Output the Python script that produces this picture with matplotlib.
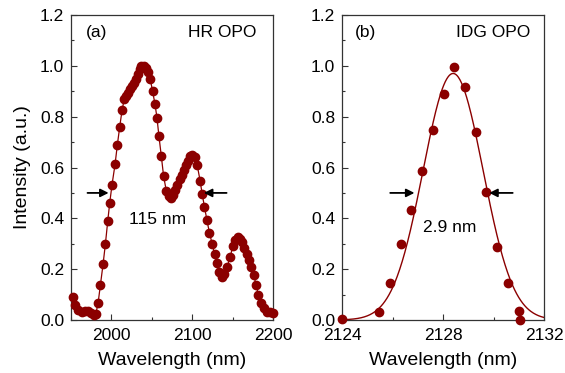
import numpy as np
import matplotlib
matplotlib.use("Agg")
import matplotlib.pyplot as plt
from matplotlib.ticker import MultipleLocator

plt.rcParams['font.family'] = ['Liberation Sans', 'DejaVu Sans']

# Panel (a): HR OPO spectrum
wl_a = [1951.9, 1954.7, 1958.8, 1963.0, 1967.1, 1971.2, 1975.3, 1978.2, 1980.7, 1983.5,
        1986.4, 1989.7, 1992.6, 1995.5, 1997.9, 2000.8, 2004.5, 2007.4, 2010.3, 2013.2,
        2016.0, 2018.5, 2020.6, 2023.0, 2025.5, 2027.6, 2030.0, 2032.5, 2035.0, 2037.0,
        2039.9, 2042.4, 2044.9, 2048.1, 2051.0, 2053.9, 2056.4, 2058.8, 2061.7, 2064.6,
        2067.9, 2070.8, 2074.1, 2076.1, 2078.2, 2081.1, 2084.4, 2086.8, 2089.3, 2091.8,
        2094.7, 2097.5, 2100.0, 2103.3, 2106.2, 2109.9, 2112.3, 2115.2, 2118.1, 2121.4,
        2124.7, 2127.6, 2130.5, 2133.7, 2136.6, 2139.9, 2143.2, 2146.9, 2150.2, 2153.5,
        2156.4, 2159.3, 2161.7, 2164.6, 2167.5, 2170.0, 2172.8, 2176.1, 2179.0, 2181.9,
        2185.2, 2188.5, 2192.2, 2196.3, 2199.6]
int_a = [0.092, 0.060, 0.040, 0.033, 0.037, 0.035, 0.026, 0.020, 0.024, 0.066,
         0.138, 0.220, 0.300, 0.390, 0.460, 0.533, 0.612, 0.690, 0.760, 0.826,
         0.870, 0.880, 0.895, 0.908, 0.920, 0.934, 0.947, 0.967, 0.987, 1.000,
         1.000, 0.990, 0.976, 0.947, 0.900, 0.850, 0.796, 0.724, 0.647, 0.566,
         0.509, 0.487, 0.480, 0.493, 0.513, 0.533, 0.553, 0.572, 0.592, 0.609,
         0.625, 0.645, 0.649, 0.640, 0.609, 0.546, 0.496, 0.445, 0.395, 0.342,
         0.300, 0.260, 0.224, 0.187, 0.171, 0.182, 0.210, 0.247, 0.290, 0.316,
         0.325, 0.318, 0.305, 0.283, 0.260, 0.237, 0.210, 0.178, 0.138, 0.099,
         0.066, 0.046, 0.033, 0.030, 0.026]

# Panel (b): IDG OPO spectrum
wl_b = [2124.0, 2125.47, 2125.9, 2126.33, 2126.75, 2127.17, 2127.59, 2128.02, 2128.44,
        2128.88, 2129.29, 2129.72, 2130.14, 2130.57, 2131.0, 2131.04]
int_b = [0.003, 0.033, 0.145, 0.300, 0.434, 0.586, 0.747, 0.888, 0.997,
         0.918, 0.740, 0.503, 0.287, 0.145, 0.036, 0.0]

# Gaussian fit parameters
fit_amp = 0.97
fit_center = 2128.4
fit_fwhm = 2.8

yticks = [0.0, 0.2, 0.4, 0.6, 0.8, 1.0, 1.2]
ytick_labels = ['0.0', '0.2', '0.4', '0.6', '0.8', '1.0', '1.2']

red = '#8b0000'

fig = plt.figure(figsize=(5.65, 3.73), dpi=100)
ax1 = fig.add_axes([71/565, 1-320/373, (273-71)/565, (320-15)/373])
ax2 = fig.add_axes([342/565, 1-320/373, (544-342)/565, (320-15)/373])

ax1.plot(wl_a, int_a, '-', color=red, lw=0.9, marker='o', ms=6, mec=red, mfc=red, clip_on=False, zorder=3)
ax2.plot(wl_b, int_b, 'o', color=red, ms=6, clip_on=False, zorder=3)
xf = np.linspace(2124, 2132, 400)
sig = fit_fwhm / 2.3548
ax2.plot(xf, fit_amp*np.exp(-0.5*((xf-fit_center)/sig)**2), '-', color=red, lw=1.0)

ax1.set_xlim(1950, 2200)
ax2.set_xlim(2124, 2132)
for ax in (ax1, ax2):
    ax.set_ylim(0, 1.2)
    ax.set_yticks(yticks)
    ax.set_yticklabels(ytick_labels)
    ax.yaxis.set_minor_locator(MultipleLocator(0.1))
    ax.tick_params(which='both', direction='in', top=False, right=False, labelsize=12.5, color='#333333')
    ax.tick_params(which='major', length=4, width=0.8)
    ax.tick_params(which='minor', length=2.5, width=0.8)
    ax.tick_params(axis='x', which='major', pad=6)
    ax.tick_params(axis='y', which='major', pad=5)
    for s in ax.spines.values():
        s.set_color('#333333')
        s.set_linewidth(0.9)
    ax.set_xlabel('Wavelength (nm)', fontsize=14, labelpad=6)

ax1.set_xticks([2000, 2100, 2200])
ax1.xaxis.set_minor_locator(MultipleLocator(50))
ax2.set_xticks([2124, 2128, 2132])
ax2.xaxis.set_minor_locator(MultipleLocator(2))
ax1.set_ylabel('Intensity (a.u.)', fontsize=14, labelpad=6)

arrow_kw = dict(arrowstyle='-|>', color='black', lw=1.3, mutation_scale=12)
ax1.annotate('', xy=(2000, 0.5), xytext=(1967, 0.5), arrowprops=arrow_kw)
ax1.annotate('', xy=(2111, 0.5), xytext=(2146, 0.5), arrowprops=arrow_kw)
ax1.text(2057.5, 0.395, '115 nm', fontsize=12.5, ha='center', va='center')
ax1.text(1968, 1.13, '(a)', fontsize=12.5, ha='left', va='center')
ax1.text(2180, 1.13, 'HR OPO', fontsize=12.5, ha='right', va='center')

ax2.annotate('', xy=(2126.98, 0.5), xytext=(2125.8, 0.5), arrowprops=arrow_kw)
ax2.annotate('', xy=(2129.72, 0.5), xytext=(2130.87, 0.5), arrowprops=arrow_kw)
ax2.text(2128.27, 0.362, '2.9 nm', fontsize=12.5, ha='center', va='center')
ax2.text(2124.5, 1.13, '(b)', fontsize=12.5, ha='left', va='center')
ax2.text(2131.45, 1.13, 'IDG OPO', fontsize=12.5, ha='right', va='center')

fig.savefig('out.png', dpi=100)
